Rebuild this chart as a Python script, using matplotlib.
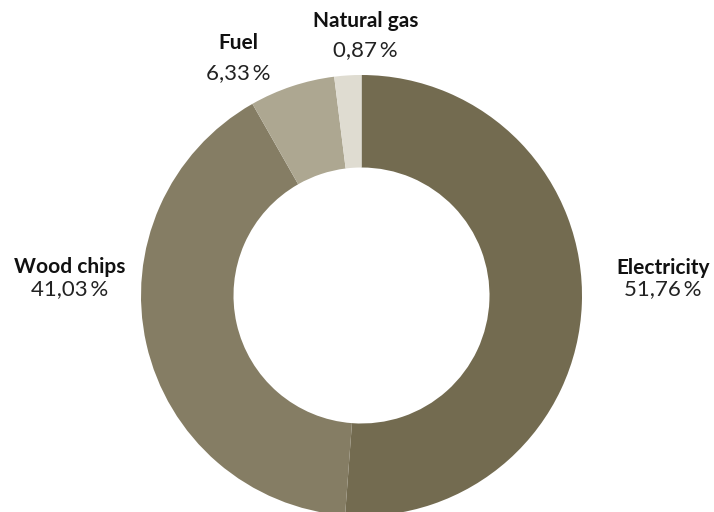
import matplotlib
matplotlib.use("Agg")
import matplotlib.pyplot as plt

categories = ["Electricity", "Wood chips", "Fuel", "Natural gas"]
values = [51.76, 41.03, 6.33, 0.87]
colors = ["#736B50", "#857D64", "#ADA791", "#DFDCD1"]
min_display = 2.0  # smallest slices are drawn at a minimum visible size
sizes = [max(v, min_display) for v in values]

W, H = 714, 512
fig = plt.figure(figsize=(W / 100, H / 100), dpi=100)
ax = fig.add_axes([0, 0, 1, 1])

cx, cy = 361.5, H - 295.5
R, r = 220.5, 128.0
ax.pie(sizes, colors=colors, startangle=90, counterclock=False,
       center=(cx, cy), radius=R, frame=True,
       wedgeprops=dict(width=R - r, edgecolor="none", linewidth=0))
ax.set_xlim(0, W)
ax.set_ylim(0, H)
ax.set_aspect("equal")
ax.axis("off")

label_pos = {
    "Electricity": (663, 268, 289),
    "Wood chips": (70, 267, 289),
    "Fuel": (238, 43, 73),
    "Natural gas": (365.5, 21, 50),
}
for cat, v in zip(categories, values):
    x, yn, yv = label_pos[cat]
    ax.text(x, H - yn, cat, ha="center", va="center", fontsize=15,
            fontweight="bold", family="Lato", color="#111111")
    ax.text(x, H - yv, f"{v:.2f}".replace(".", ",") + "\u2009%", ha="center",
            va="center", fontsize=16, fontweight="normal", family="Lato",
            color="#222222")

fig.savefig("out.png", dpi=100)
